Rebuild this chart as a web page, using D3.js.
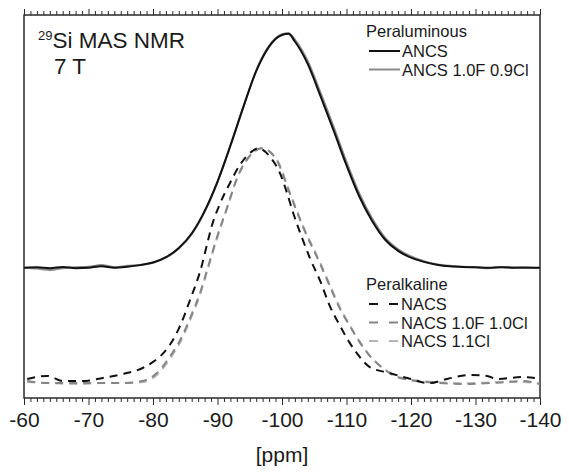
<!DOCTYPE html>
<html><head><meta charset="utf-8">
<script src="https://cdn.jsdelivr.net/npm/d3@7"></script>
<style>
body{margin:0;background:#fff;}
text{font-family:"Liberation Sans",Arial,sans-serif;fill:#1a1a1a;}
</style></head>
<body><svg id="c" width="569" height="472"></svg>
<script>
// ---- data (ppm, normalised intensity) ----
const ancsPpm = [-60,-62,-64,-66,-68,-70,-72,-74,-76,-78,-80,-82,-84,-86,-88,-90,-92,-94,-96,-98,-99,-100,-101,-102,-104,-106,-108,-110,-112,-114,-116,-118,-120,-122,-124,-126,-128,-130,-132,-134,-136,-138,-140];
const ancsVal = [0,0.002,-0.002,0.003,-0.002,0,0.006,0,0.004,0.011,0.022,0.045,0.085,0.147,0.243,0.37,0.525,0.69,0.845,0.95,0.983,1.0,1.005,0.972,0.875,0.735,0.59,0.44,0.305,0.2,0.12,0.072,0.043,0.025,0.013,0.006,0.003,0.002,0,0.002,0,0.001,0];
const ancsFClPpm = [-60,-62,-64,-66,-68,-70,-72,-74,-76,-78,-80,-82,-84,-86,-88,-90,-92,-94,-96,-98,-99,-100,-101,-102,-104,-106,-108,-110,-112,-114,-116,-118,-120,-122,-124,-126,-128,-130,-132,-134,-136,-138,-140];
const ancsFClVal = [0,-0.004,-0.01,-0.002,0.002,0.004,0.012,0.002,0.008,0.012,0.021,0.043,0.082,0.144,0.24,0.368,0.523,0.69,0.847,0.953,0.986,1.003,1.008,0.98,0.887,0.75,0.605,0.455,0.318,0.21,0.128,0.079,0.048,0.028,0.015,0.008,0.004,0.002,-0.002,0.003,0.001,-0.001,0];

const nacsPpm = [-60.5,-63.6,-66.0,-69.1,-72.2,-75.3,-78.4,-80.0,-81.6,-82.6,-84.2,-85.7,-87.6,-88.4,-89.1,-90.4,-91.9,-93.5,-95.4,-96.3,-98.1,-99.7,-100.8,-101.7,-103.1,-104.3,-105.9,-107.4,-109.0,-110.5,-111.6,-113.6,-116.7,-119.4,-122.9,-125.6,-129.1,-131.8,-133.3,-137.4,-140];
const nacsVal = [0.009,0.022,0,0,0.013,0.030,0.056,0.082,0.12,0.155,0.237,0.345,0.5,0.59,0.665,0.763,0.849,0.93,0.988,1.0,0.965,0.892,0.806,0.725,0.616,0.530,0.431,0.323,0.237,0.164,0.12,0.06,0.034,0.013,-0.009,0.009,0.026,0.022,0.009,0.017,0.009];

const nacsFClPpm = [-60.5,-64.0,-69.1,-71.8,-75.3,-78.4,-80.6,-82.0,-83.1,-84.2,-85.7,-87.3,-88.5,-89.9,-91.5,-93.0,-95.0,-96.9,-99.2,-101.2,-103.3,-105.9,-107.4,-109.0,-110.5,-112.1,-113.6,-115.2,-116.7,-118.3,-124.5,-128.1,-132.2,-137.4,-140];
const nacsFClVal = [0,-0.009,-0.009,-0.009,-0.009,0,0.034,0.08,0.125,0.175,0.267,0.379,0.487,0.616,0.746,0.87,0.968,1.0,0.948,0.806,0.659,0.504,0.409,0.310,0.237,0.164,0.108,0.065,0.034,0.013,-0.009,-0.013,-0.009,0,-0.013];

const nacsClPpm = [-60.5,-64.0,-69.1,-71.8,-75.3,-78.4,-80.6,-82.0,-83.1,-84.2,-85.7,-87.3,-88.5,-89.9,-91.5,-93.0,-95.0,-96.9,-99.2,-101.2,-103.3,-105.9,-107.4,-109.0,-110.5,-112.1,-113.6,-115.2,-116.7,-118.3,-124.5,-128.1,-132.2,-137.4,-140];
const nacsClVal = [-0.004,-0.009,-0.013,-0.009,-0.009,-0.004,0.026,0.07,0.115,0.165,0.258,0.372,0.482,0.612,0.744,0.868,0.966,1.0,0.952,0.812,0.664,0.51,0.414,0.315,0.24,0.168,0.11,0.066,0.036,0.015,-0.006,-0.01,-0.006,-0.004,-0.013];

const majorTicks = [-60,-70,-80,-90,-100,-110,-120,-130,-140];
const tickLabels = ["-60","-70","-80","-90","-100","-110","-120","-130","-140"];
const peraluminousNames = ["ANCS","ANCS 1.0F 0.9Cl"];
const peralkalineNames = ["NACS","NACS 1.0F 1.0Cl","NACS 1.1Cl"];
const solidOffset = 0.487;

// ---- layout ----
const L=24,R=540,T=15,B=398;
const svg=d3.select("#c");
const x=d3.scaleLinear().domain([-60,-140]).range([L,R]);
const y=d3.scaleLinear().domain([-0.073,1.573]).range([B,T]);

const minorTicks=d3.range(-60,-141,-1).filter(v=>v%10!==0);
const axisColor="#2a2a2a";

function styleAxis(g){g.select(".domain").remove();g.selectAll("line").attr("stroke",axisColor).attr("stroke-width",1);}
// bottom
const gb=svg.append("g").attr("transform",`translate(0,${B})`);
gb.append("g").call(d3.axisBottom(x).tickValues(minorTicks).tickSize(4).tickFormat("")).call(styleAxis);
gb.append("g").call(d3.axisBottom(x).tickValues(majorTicks).tickSize(7).tickPadding(7).tickFormat((d,i)=>tickLabels[i])).call(styleAxis)
  .selectAll("text").attr("font-size",21).attr("fill","#1a1a1a").attr("font-family","Liberation Sans, Arial, sans-serif");
// top
const gt=svg.append("g").attr("transform",`translate(0,${T})`);
gt.append("g").call(d3.axisTop(x).tickValues(minorTicks).tickSize(4).tickFormat("")).call(styleAxis);
gt.append("g").call(d3.axisTop(x).tickValues(majorTicks).tickSize(6).tickFormat("")).call(styleAxis);

// frame
svg.append("rect").attr("x",L).attr("y",T).attr("width",R-L).attr("height",B-T)
  .attr("fill","none").attr("stroke",axisColor).attr("stroke-width",1.5);

svg.append("text").attr("x",(L+R)/2).attr("y",462).attr("text-anchor","middle").attr("font-size",21).text("[ppm]");

// curves
const line=(off)=>d3.line().x(d=>x(d[0])).y(d=>y(d[1]+off)).curve(d3.curveMonotoneX);
const zip=(a,b)=>a.map((v,i)=>[v,b[i]]);
const plot=svg.append("g");
const series=[
 {p:nacsClPpm,v:nacsClVal,off:0,c:"#b5b5b5",dash:"8,6"},
 {p:nacsFClPpm,v:nacsFClVal,off:0,c:"#858585",dash:"8,6"},
 {p:nacsPpm,v:nacsVal,off:0,c:"#111",dash:"8,6"},
 {p:ancsFClPpm,v:ancsFClVal,off:solidOffset,c:"#8a8a8a",dash:null},
 {p:ancsPpm,v:ancsVal,off:solidOffset,c:"#111",dash:null}
];
series.forEach(s=>{
  plot.append("path").datum(zip(s.p,s.v)).attr("d",line(s.off)).attr("fill","none")
   .attr("stroke",s.c).attr("stroke-width",2).attr("stroke-dasharray",s.dash);
});

// annotation
const t1=svg.append("text").attr("x",38).attr("y",48).attr("font-size",22.5);
t1.append("tspan").attr("font-size",13).attr("dy",-8).text("29");
t1.append("tspan").attr("dy",8).text("Si MAS NMR");
svg.append("text").attr("x",54).attr("y",74).attr("font-size",22.5).text("7 T");

// legends
const fs=16.5;
svg.append("text").attr("x",366).attr("y",37).attr("font-size",fs).text("Peraluminous");
const leg1=["#111","#8a8a8a"];
peraluminousNames.forEach((n,i)=>{
  const yy=51+i*18.5;
  svg.append("line").attr("x1",369).attr("x2",400).attr("y1",yy).attr("y2",yy).attr("stroke",leg1[i]).attr("stroke-width",2);
  svg.append("text").attr("x",402).attr("y",yy+6).attr("font-size",fs).text(n);
});
svg.append("text").attr("x",366).attr("y",290).attr("font-size",fs).text("Peralkaline");
const leg2=["#111","#858585","#b5b5b5"];
peralkalineNames.forEach((n,i)=>{
  const yy=304+i*18.5;
  svg.append("line").attr("x1",369).attr("x2",400).attr("y1",yy).attr("y2",yy).attr("stroke",leg2[i]).attr("stroke-width",2).attr("stroke-dasharray","9,11");
  svg.append("text").attr("x",401).attr("y",yy+6).attr("font-size",fs).text(n);
});
</script></body></html>
